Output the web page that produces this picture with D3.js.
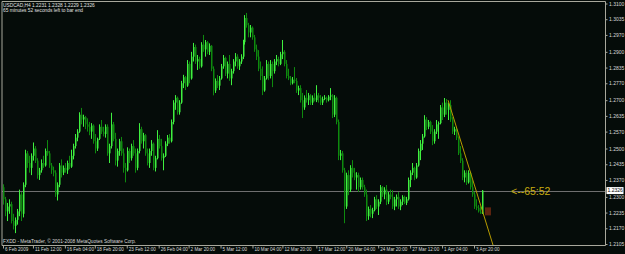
<!DOCTYPE html>
<html>
<head>
<meta charset="utf-8">
<script src="https://cdn.jsdelivr.net/npm/d3@7"></script>
<style>
  body { margin: 0; background: #050c09; }
  svg { display: block; }
  text { font-family: "Liberation Sans", Arial, sans-serif; }
</style>
</head>
<body>
<svg id="chart" width="625" height="254"></svg>
<script>
// USDCAD H4 bars, prices in pips above 1.2000
const BASE = 1.2;

const barOpen = [
  340,290,240,260,270,200,180,205,240,310,
  230,350,480,440,420,470,500,450,390,410,
  440,430,490,480,430,410,400,310,350,430,
  400,420,410,440,425,470,510,545,570,640,
  620,630,600,590,570,595,530,500,540,590,
  570,560,590,480,510,600,540,450,490,530,
  480,420,410,490,460,510,480,420,490,580,
  530,555,480,440,490,520,420,460,540,510,
  460,470,520,545,530,610,690,710,650,690,
  770,795,760,850,790,880,920,860,870,840,
  930,910,940,900,925,830,740,780,760,790,
  840,875,810,850,790,820,860,880,840,860,
  880,940,1040,1010,980,1000,960,910,880,830,
  800,740,790,850,800,850,820,860,870,850,
  890,900,850,800,790,770,785,780,740,750,
  700,670,710,700,720,690,710,700,720,710,
  690,705,710,700,715,720,640,710,610,470,
  480,410,260,390,330,420,400,380,390,340,
  370,340,310,220,250,230,245,290,260,280,
  340,310,330,280,310,300,260,290,300,260,
  280,300,275,290,370,400,420,380,430,490,
  520,550,620,590,610,570,530,570,600,605,
  670,640,690,660,680,620,570,580,545,480,
  450,380,400,360,400,340,310,260,255,240,
  231
];

const barHigh = [
  352,300,275,290,280,230,215,250,330,320,
  360,495,490,470,480,525,510,460,420,455,
  470,500,535,490,440,425,410,360,440,455,
  430,440,450,470,495,520,560,580,650,668,
  640,635,625,610,605,600,560,545,600,618,
  590,600,600,520,648,610,565,500,540,548,
  500,440,505,500,520,535,500,500,605,590,
  565,560,500,500,535,525,470,576,556,540,
  480,530,556,560,620,700,721,715,700,780,
  805,800,866,860,900,937,930,887,880,940,
  970,949,945,935,928,840,790,804,800,850,
  887,880,860,887,830,870,895,890,870,890,
  950,1052,1061,1020,1011,1005,970,930,907,860,
  840,800,866,860,866,860,870,887,880,900,
  949,907,866,830,800,796,837,792,760,762,
  730,720,742,730,725,720,729,762,730,721,
  715,721,715,721,750,725,721,715,620,494,
  490,420,400,410,431,452,420,402,400,380,
  380,350,330,260,266,255,300,307,290,349,
  345,340,349,320,330,328,300,310,320,290,
  307,305,300,380,410,440,425,440,500,535,
  560,638,630,618,615,597,580,618,612,680,
  690,709,705,690,700,630,590,590,550,510,
  460,410,410,410,405,369,320,290,266,260,
  328
];

const barLow = [
  268,220,200,230,190,165,150,185,220,200,
  215,340,420,400,390,450,440,375,370,400,
  420,425,470,420,395,385,300,285,340,380,
  390,400,395,415,420,455,500,530,565,600,
  590,580,570,555,540,520,480,490,535,560,
  550,545,470,440,500,530,430,425,470,470,
  400,360,405,440,450,470,400,410,480,520,
  500,470,430,420,470,410,405,455,500,450,
  410,465,510,520,525,600,660,640,640,685,
  750,742,755,770,785,860,850,825,830,835,
  900,880,890,887,820,720,730,750,742,785,
  830,800,790,780,762,810,840,830,825,850,
  870,930,1000,960,960,950,900,866,820,783,
  721,735,785,783,790,754,810,845,840,845,
  870,840,790,783,762,765,770,730,721,690,
  626,660,690,680,680,680,695,692,690,680,
  680,700,690,695,700,626,630,600,452,452,
  400,191,250,307,320,380,369,330,320,330,
  330,300,200,205,215,212,240,250,225,270,
  300,290,266,270,290,250,245,260,250,245,
  266,270,266,285,340,390,369,375,425,452,
  494,545,576,580,560,514,520,560,540,600,
  618,630,640,618,610,560,556,535,473,440,
  369,360,349,355,330,300,250,245,235,230,
  229
];

const barClose = [
  290,240,260,270,200,180,205,240,310,230,
  350,480,440,420,470,500,450,390,410,440,
  430,490,480,430,410,400,310,350,430,400,
  420,410,440,425,470,510,545,570,640,620,
  630,600,590,570,595,530,500,540,590,570,
  560,590,480,510,600,540,450,490,530,480,
  420,410,490,460,510,480,420,490,580,530,
  555,480,440,490,520,420,460,540,510,460,
  470,520,545,530,610,690,710,650,690,770,
  795,760,850,790,880,920,860,870,840,930,
  910,940,900,925,830,740,780,760,790,840,
  875,810,850,790,820,860,880,840,860,880,
  940,1040,1010,980,1000,960,910,880,830,800,
  740,790,850,800,850,820,860,870,850,890,
  900,850,800,790,770,785,780,740,750,700,
  670,710,700,720,690,710,700,720,710,690,
  705,710,700,715,720,640,710,610,470,480,
  410,260,390,330,420,400,380,390,340,370,
  340,310,220,250,230,245,290,260,280,340,
  310,330,280,310,300,260,290,300,260,280,
  300,275,290,370,400,420,380,430,490,520,
  550,620,590,610,570,530,570,600,605,670,
  640,690,660,680,620,570,580,545,480,450,
  380,400,360,400,340,310,260,255,240,231,
  326
];

const priceTicks = [
  1.3100, 1.3035, 1.2970, 1.2900, 1.2835, 1.2770, 1.2700, 1.2635,
  1.2570, 1.2500, 1.2435, 1.2370, 1.2300, 1.2235, 1.2170, 1.2105
];

const timeTickBars = [0, 15, 31, 46, 62, 78, 93, 109, 125, 140, 157, 172, 188, 204, 220, 236];
const timeLabels = [
  "6 Feb 2009", "11 Feb 12:00", "16 Feb 04:00", "18 Feb 20:00",
  "23 Feb 12:00", "26 Feb 04:00", "2 Mar 20:00", "5 Mar 12:00",
  "10 Mar 04:00", "12 Mar 20:00", "17 Mar 12:00", "20 Mar 04:00",
  "24 Mar 20:00", "27 Mar 12:00", "1 Apr 04:00", "3 Apr 20:00"
];

// trendline anchors [bar, price]
const trendBars = [223, 236];
const trendPrices = [1.2700, 1.2354];

const lastPrice = 1.2326;
const timerText = "<--65:52";
const markerBar = 241.5;
const markerPrice = 1.2240;

const bars = barClose.map((c, i) => ({
  i,
  o: BASE + barOpen[i] / 10000,
  h: BASE + barHigh[i] / 10000,
  l: BASE + barLow[i] / 10000,
  c: BASE + c / 10000
}));

const plot = { left: 2, right: 605.5, top: 1.5, bottom: 245.5 };

const x =
  d3.scaleLinear()
    .domain([0, barClose.length - 1])
    .range([3, 482]);

const y =
  d3.scaleLinear()
    .domain([1.2105, 1.3100])
    .range([244, 3.5]);

const svg = d3.select("#chart");

svg.append("rect")
  .attr("width", 625)
  .attr("height", 254)
  .attr("fill", "#050c09");

svg.append("clipPath")
  .attr("id", "plotClip")
  .append("rect")
  .attr("x", plot.left)
  .attr("y", plot.top)
  .attr("width", plot.right - plot.left)
  .attr("height", plot.bottom - plot.top);

const area =
  svg.append("g")
    .attr("clip-path", "url(#plotClip)");

// bid line
area.append("line")
  .attr("x1", plot.left)
  .attr("x2", plot.right)
  .attr("y1", Math.round(y(lastPrice)) + 0.5)
  .attr("y2", Math.round(y(lastPrice)) + 0.5)
  .attr("stroke", "#6f6f6f")
  .attr("stroke-width", 1);

// candles
const candle =
  area.selectAll(".bar")
    .data(bars)
    .enter()
    .append("g")
    .attr("class", "bar");

const upColor = "#3ff03f";
const downColor = "#0e8a0e";

candle.append("line")
  .attr("x1", d => Math.round(x(d.i)) + 0.5)
  .attr("x2", d => Math.round(x(d.i)) + 0.5)
  .attr("y1", d => y(d.h))
  .attr("y2", d => y(d.l))
  .attr("stroke", d => d.c >= d.o ? upColor : downColor)
  .attr("stroke-width", 1);

candle.append("rect")
  .attr("x", d => Math.round(x(d.i)))
  .attr("width", 1.5)
  .attr("y", d => y(Math.max(d.o, d.c)))
  .attr("height", d => Math.max(1, Math.abs(y(d.o) - y(d.c))))
  .attr("fill", d => d.c >= d.o ? upColor : downColor);

// trendline extended as a ray
const slope = (trendPrices[1] - trendPrices[0]) / (trendBars[1] - trendBars[0]);
const rayEnd = trendBars[0] + 40;

area.append("line")
  .attr("x1", x(trendBars[0]))
  .attr("y1", y(trendPrices[0]))
  .attr("x2", x(rayEnd))
  .attr("y2", y(trendPrices[0] + slope * (rayEnd - trendBars[0])))
  .attr("stroke", "#b89c00")
  .attr("stroke-width", 1);

area.append("rect")
  .attr("x", x(markerBar))
  .attr("y", y(markerPrice) - 4)
  .attr("width", 6)
  .attr("height", 8)
  .attr("fill", "#5e2410");

area.append("text")
  .attr("x", 511)
  .attr("y", y(lastPrice) + 4)
  .attr("font-size", 10.5)
  .attr("fill", "#c9ad10")
  .text(timerText);

// frame
svg.append("path")
  .attr("d", `M${plot.left},${plot.bottom}V${plot.top}H${plot.right}V${plot.bottom}H${plot.left}`)
  .attr("fill", "none")
  .attr("stroke", "#a8a89c")
  .attr("stroke-width", 1);

// price scale
const yAxis =
  svg.append("g")
    .attr("transform", `translate(${plot.right},0)`)
    .call(
      d3.axisRight(y)
        .tickValues(priceTicks)
        .tickSize(2)
        .tickPadding(1.5)
        .tickFormat(d3.format(".4f"))
    );

yAxis.select(".domain").remove();
yAxis.selectAll("line").attr("stroke", "#a8a89c");
yAxis.selectAll("text")
  .attr("fill", "#d8d8d8")
  .attr("font-size", 5)
  .style("font-family", "'Liberation Sans', Arial, sans-serif");

// current price tag
svg.append("rect")
  .attr("x", 606.5)
  .attr("y", y(lastPrice) - 3.5)
  .attr("width", 17)
  .attr("height", 7)
  .attr("fill", "#ffffff");

svg.append("text")
  .attr("x", 607.5)
  .attr("y", y(lastPrice) + 1.8)
  .attr("font-size", 5)
  .attr("fill", "#000")
  .text(lastPrice.toFixed(4));

// time scale
const xAxis =
  svg.append("g")
    .attr("transform", `translate(0,${plot.bottom})`)
    .call(
      d3.axisBottom(x)
        .tickValues(timeTickBars)
        .tickSize(3)
        .tickFormat((d, i) => timeLabels[i])
    );

xAxis.select(".domain").remove();
xAxis.selectAll("line").attr("stroke", "#a8a89c");
xAxis.selectAll("text")
  .attr("text-anchor", "start")
  .attr("dx", 1.5)
  .attr("y", 2)
  .attr("dy", "0.71em")
  .attr("fill", "#d8d8d8")
  .attr("font-size", 4.6)
  .style("font-family", "'Liberation Sans', Arial, sans-serif");

// header + footer text
const last = bars[bars.length - 1];
const header = [
  `USDCAD,H4  ${last.o.toFixed(4)} ${last.h.toFixed(4)} ${last.l.toFixed(4)} ${last.c.toFixed(4)}`,
  "65 minutes 52 seconds left to bar end"
];

svg.selectAll(".hdr")
  .data(header)
  .enter()
  .append("text")
  .attr("class", "hdr")
  .attr("x", 3)
  .attr("y", (d, i) => 7 + i * 5)
  .attr("font-size", 4.8)
  .attr("fill", "#e0e0e0")
  .text(d => d);

svg.append("text")
  .attr("x", 3)
  .attr("y", 242.5)
  .attr("font-size", 4.8)
  .attr("fill", "#d8d8d8")
  .text("FXDD - MetaTrader, © 2001-2008 MetaQuotes Software Corp.");
</script>
</body>
</html>
